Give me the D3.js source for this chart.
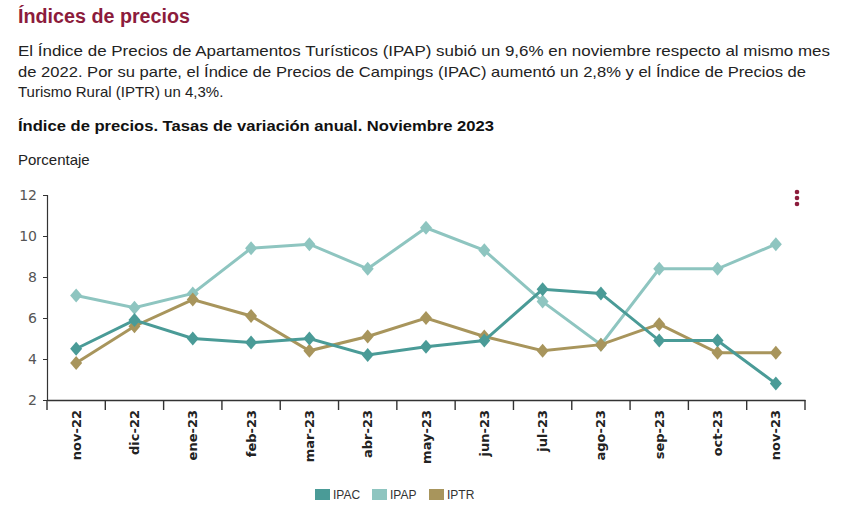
<!DOCTYPE html>
<html><head><meta charset="utf-8">
<script src="https://cdn.jsdelivr.net/npm/d3@7"></script>
<style>
html,body{margin:0;padding:0;background:#fff;}
svg{display:block;font-family:"Liberation Sans",Arial,sans-serif;}
</style></head>
<body><svg id="c" width="850" height="518"></svg>
<script>
const categories = ["nov-22","dic-22","ene-23","feb-23","mar-23","abr-23","may-23","jun-23","jul-23","ago-23","sep-23","oct-23","nov-23"];
const ipac = [4.5,5.9,5.0,4.8,5.0,4.2,4.6,4.9,7.4,7.2,4.9,4.9,2.8];
const ipap = [7.1,6.5,7.2,9.4,9.6,8.4,10.4,9.3,6.8,4.7,8.4,8.4,9.6];
const iptr = [3.8,5.6,6.9,6.1,4.4,5.1,6.0,5.1,4.4,4.7,5.7,4.3,4.3];
const yTicks = [2,4,6,8,10,12];
const seriesNames = ["IPAC","IPAP","IPTR"];
const colors = ["#4a9b97","#8ec5c0","#a8955c"];

const svg = d3.select("#c");
// header texts
svg.append("text").attr("x",18).attr("y",23).attr("font-size",20).attr("font-weight","bold")
  .attr("fill","#8c1c3c").attr("textLength",172).attr("lengthAdjust","spacingAndGlyphs").text("Índices de precios");
const para = ["El Índice de Precios de Apartamentos Turísticos (IPAP) subió un 9,6% en noviembre respecto al mismo mes",
  "de 2022. Por su parte, el Índice de Precios de Campings (IPAC) aumentó un 2,8% y el Índice de Precios de",
  "Turismo Rural (IPTR) un 4,3%."];
const paraW = [812, 788, null];
para.forEach((t,i)=>{
  const el = svg.append("text").attr("x",18).attr("y",56+i*20.5).attr("font-size",15).attr("fill","#222").text(t);
  if(paraW[i]) el.attr("textLength",paraW[i]).attr("lengthAdjust","spacingAndGlyphs");
});
svg.append("text").attr("x",18).attr("y",131).attr("font-size",15).attr("font-weight","bold").attr("fill","#111")
  .attr("textLength",476).attr("lengthAdjust","spacingAndGlyphs")
  .text("Índice de precios. Tasas de variación anual. Noviembre 2023");
svg.append("text").attr("x",18).attr("y",165).attr("font-size",15).attr("fill","#222").text("Porcentaje");

// menu dots
[192,198,204].forEach(y=>svg.append("circle").attr("cx",797).attr("cy",y).attr("r",2.3).attr("fill","#8c1c3c"));

const x = d3.scaleBand().domain(categories).range([47,805]).paddingInner(0).paddingOuter(0);
const y = d3.scaleLinear().domain([2,12]).range([400,195]);

// y axis
const ya = svg.append("g").attr("transform","translate(47,0)")
  .call(d3.axisLeft(y).tickValues(yTicks).tickSize(4).tickPadding(6).tickFormat(d3.format("d")));
ya.select(".domain").attr("stroke","#333").attr("stroke-width",1.2);
ya.selectAll(".tick line").attr("stroke","#333");
ya.selectAll("text").attr("font-size",14).attr("fill","#555").attr("font-family","'DejaVu Sans',sans-serif");

// x axis
const xa = svg.append("g").attr("transform","translate(0,400)")
  .call(d3.axisBottom(x).tickSize(0).tickSizeOuter(0));
xa.select(".domain").attr("stroke","#333").attr("stroke-width",1.4);
const bounds = categories.map(c=>x(c)).concat([x.range()[1]]);
xa.selectAll(".bnd").data(bounds).join("line").attr("class","bnd")
  .attr("x1",d=>d).attr("x2",d=>d).attr("y1",0).attr("y2",10).attr("stroke","#333").attr("stroke-width",1.4);
xa.selectAll(".tick text").attr("font-size",13).attr("fill","#222").attr("font-weight","bold")
  .attr("font-family","'DejaVu Sans',sans-serif")
  .attr("transform","rotate(-90)").attr("text-anchor","end").attr("x",-10).attr("y",0).attr("dy","0.35em");

// lines
const data = [ipac, ipap, iptr];
const cx = i => x(categories[i]) + x.bandwidth()/2;
const line = d3.line().x((d,i)=>cx(i)).y(d=>y(d));
const diamond = "M0,-7L6,0L0,7L-6,0Z";
const order = [1,2,0];
order.forEach(k=>{
  const g = svg.append("g");
  g.append("path").datum(data[k]).attr("d",line).attr("fill","none").attr("stroke",colors[k]).attr("stroke-width",3);
  g.selectAll("path.m").data(data[k]).join("path").attr("class","m")
    .attr("d",diamond)
    .attr("transform",(d,i)=>`translate(${cx(i)},${y(d)})`).attr("fill",colors[k]);
});

// legend
const lx = [315,372,429];
seriesNames.forEach((n,i)=>{
  svg.append("rect").attr("x",lx[i]).attr("y",489).attr("width",15).attr("height",11).attr("fill",colors[i]);
  svg.append("text").attr("x",lx[i]+18).attr("y",499).attr("font-size",12).attr("fill","#333").text(n);
});
</script></body></html>
